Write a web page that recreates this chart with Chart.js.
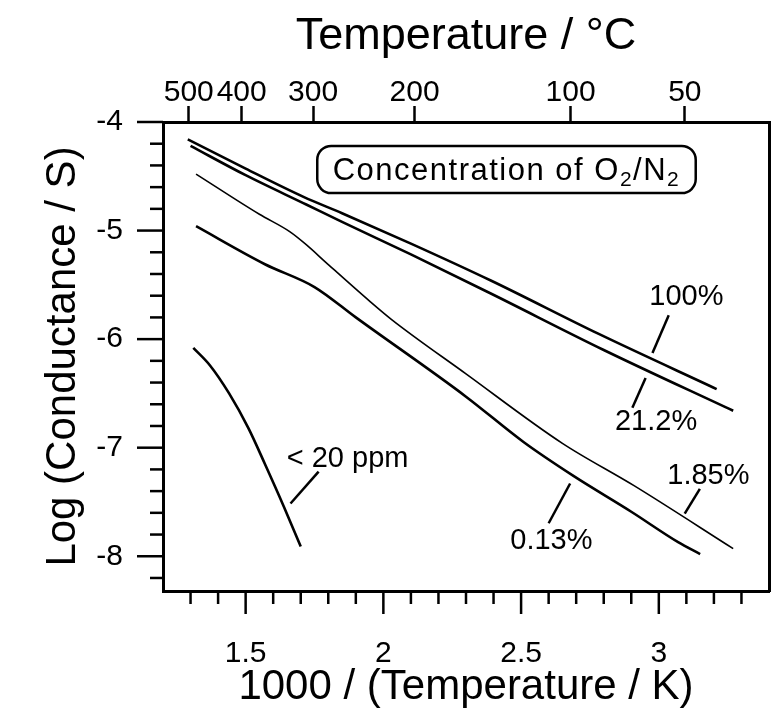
<!DOCTYPE html>
<html>
<head>
<meta charset="utf-8">
<script src="https://cdn.jsdelivr.net/npm/chart.js@4.4.1/dist/chart.umd.min.js"></script>
<style>
  html, body { margin: 0; padding: 0; background: #fff; }
  #wrap { width: 777px; height: 716px; }
</style>
</head>
<body>
<div id="wrap"><canvas id="chart" width="777" height="716"></canvas></div>
<script>
// curves: x = 1000 / T(K), y = log conductance
const x100 = [1.29, 1.50, 1.71, 1.85, 2.10, 2.39, 2.78, 3.21];
const y100 = [-4.16, -4.43, -4.69, -4.84, -5.12, -5.46, -5.95, -6.46];

const x212 = [1.30, 1.50, 1.72, 1.85, 2.10, 2.39, 2.80, 3.27];
const y212 = [-4.22, -4.49, -4.76, -4.92, -5.22, -5.58, -6.10, -6.66];

const x185 = [1.32, 1.55, 1.66, 1.72, 1.79, 1.95, 2.03, 2.30, 2.65, 2.91, 3.27];
const y185 = [-4.48, -4.85, -5.01, -5.13, -5.29, -5.65, -5.82, -6.32, -6.96, -7.35, -7.93];

const x013 = [1.32, 1.57, 1.75, 1.90, 2.30, 2.51, 2.69, 2.90, 3.07, 3.15];
const y013 = [-4.96, -5.31, -5.52, -5.80, -6.53, -6.95, -7.26, -7.59, -7.87, -7.98];

const x20ppm = [1.31, 1.37, 1.44, 1.51, 1.57, 1.64, 1.70];
const y20ppm = [-6.08, -6.24, -6.50, -6.82, -7.15, -7.55, -7.91];

// top axis tick labels (degrees C)
const tempTicks = [500, 400, 300, 200, 100, 50];

// curve labels and their leader lines, in data units
const labelTexts = ['100%', '21.2%', '1.85%', '0.13%', '< 20 ppm'];
const labelX = [3.10, 2.99, 3.18, 2.61, 1.87];
const labelY = [-5.61, -6.76, -7.26, -7.86, -7.10];
const leadX1 = [3.036, 2.952, 3.149, 2.678, 1.765];
const leadY1 = [-5.78, -6.357, -7.38, -7.33, -7.22];
const leadX2 = [2.977, 2.904, 3.094, 2.600, 1.663];
const leadY2 = [-6.127, -6.632, -7.608, -7.696, -7.514];

// legend box corners
const boxX = [1.76, 3.134];
const boxY = [-4.22, -4.655];

const xMin = 1.2, xMax = 3.4, yMin = -8.32, yMax = -4;

const family = "'Liberation Sans', Arial, Helvetica, sans-serif";

const xTickValues = [];
for (let i = 13; i <= 33; i++) xTickValues.push(i / 10);
const yTickValues = [];
for (let i = -41; i <= -20; i++) yTickValues.push(i / 5);

function isMajor(v, step) {
    return Math.abs(v / step - Math.round(v / step)) < 1e-6;
}

function toPoints(xs, ys) {
    return xs.map((x, i) => ({x: x, y: ys[i]}));
}

function curve(label, xs, ys, width) {
    return {
        label: label,
        data: toPoints(xs, ys),
        borderColor: '#000',
        borderWidth: width,
        pointRadius: 0,
        cubicInterpolationMode: 'monotone',
        fill: false,
    };
}

// outward tick marks, long on labelled values, short on the rest
const tickPlugin = {
    id: 'axisTicks',
    afterDraw(chart) {
        const ctx = chart.ctx;
        const area = chart.chartArea;
        const x = chart.scales.x;
        const y = chart.scales.y;
        ctx.save();
        ctx.strokeStyle = '#000';
        ctx.lineWidth = 2.5;
        x.ticks.forEach(t => {
            const px = x.getPixelForValue(t.value);
            const len = isMajor(t.value, 0.5) ? 23 : 13;
            ctx.beginPath();
            ctx.moveTo(px, area.bottom);
            ctx.lineTo(px, area.bottom + len);
            ctx.stroke();
        });
        y.ticks.forEach(t => {
            const py = y.getPixelForValue(t.value);
            const len = isMajor(t.value, 1) ? 26 : 13;
            ctx.beginPath();
            ctx.moveTo(area.left, py);
            ctx.lineTo(area.left - len, py);
            ctx.stroke();
        });
        ctx.restore();
    }
};

// draws the curve labels, leader lines and the boxed legend text
const labelPlugin = {
    id: 'curveLabels',
    afterDatasetsDraw(chart) {
        const ctx = chart.ctx;
        const x = chart.scales.x;
        const y = chart.scales.y;
        ctx.save();
        ctx.strokeStyle = '#000';
        ctx.fillStyle = '#000';
        ctx.lineWidth = 2.5;
        labelTexts.forEach((t, i) => {
            ctx.beginPath();
            ctx.moveTo(x.getPixelForValue(leadX1[i]), y.getPixelForValue(leadY1[i]));
            ctx.lineTo(x.getPixelForValue(leadX2[i]), y.getPixelForValue(leadY2[i]));
            ctx.stroke();
            ctx.font = '29px ' + family;
            ctx.textAlign = 'center';
            ctx.textBaseline = 'middle';
            ctx.fillText(t, x.getPixelForValue(labelX[i]), y.getPixelForValue(labelY[i]));
        });

        const bx1 = x.getPixelForValue(boxX[0]);
        const bx2 = x.getPixelForValue(boxX[1]);
        const by1 = y.getPixelForValue(boxY[0]);
        const by2 = y.getPixelForValue(boxY[1]);
        ctx.beginPath();
        ctx.roundRect(bx1, by1, bx2 - bx1, by2 - by1, 14);
        ctx.stroke();

        // "Concentration of O2/N2" with subscripts
        const parts = [['Concentration of O', false], ['2', true], ['/N', false], ['2', true]];
        const mainFont = '31px ' + family;
        const subFont = '21px ' + family;
        ctx.letterSpacing = '1.5px';
        ctx.textAlign = 'left';
        ctx.textBaseline = 'alphabetic';
        let total = 0;
        parts.forEach(p => {
            ctx.font = p[1] ? subFont : mainFont;
            total += ctx.measureText(p[0]).width;
        });
        let tx = (bx1 + bx2) / 2 - total / 2;
        const base = (by1 + by2) / 2 + 11;
        parts.forEach(p => {
            ctx.font = p[1] ? subFont : mainFont;
            ctx.fillText(p[0], tx, p[1] ? base + 6 : base);
            tx += ctx.measureText(p[0]).width;
        });
        ctx.restore();
    }
};

const border = {color: '#000', width: 3};

new Chart(document.getElementById('chart'), {
    type: 'line',
    data: {
        datasets: [
            curve('100%', x100, y100, 2.6),
            curve('21.2%', x212, y212, 2.6),
            curve('1.85%', x185, y185, 1.6),
            curve('0.13%', x013, y013, 2.6),
            curve('< 20 ppm', x20ppm, y20ppm, 2.6),
        ]
    },
    options: {
        responsive: false,
        animation: false,
        layout: {padding: {left: 0, right: 8, top: 0, bottom: 0}},
        plugins: {
            legend: {display: false},
            tooltip: {enabled: false},
        },
        scales: {
            x: {
                type: 'linear',
                position: 'bottom',
                min: xMin,
                max: xMax,
                afterBuildTicks: s => { s.ticks = xTickValues.map(v => ({value: v})); },
                ticks: {
                    autoSkip: false,
                    maxRotation: 0,
                    minRotation: 0,
                    padding: 22,
                    color: '#000',
                    font: {family: family, size: 30},
                    callback: v => isMajor(v, 0.5) ? String(v) : '',
                },
                // tick marks come from tickPlugin; the grid only reserves their room
                grid: {drawOnChartArea: false, tickLength: 23, tickColor: 'rgba(0,0,0,0)'},
                border: border,
                title: {
                    display: true,
                    text: '1000 / (Temperature / K)',
                    color: '#000',
                    font: {family: family, size: 42},
                    padding: {top: 0, bottom: 3},
                },
                afterFit: s => { s.height = 125; },
            },
            x2: {
                type: 'linear',
                position: 'top',
                min: xMin,
                max: xMax,
                afterBuildTicks: s => { s.ticks = tempTicks.map(t => ({value: 1000 / (t + 273.15)})); },
                ticks: {
                    autoSkip: false,
                    maxRotation: 0,
                    minRotation: 0,
                    padding: -5,
                    color: '#000',
                    font: {family: family, size: 30},
                    callback: (v, i) => String(tempTicks[i]),
                },
                grid: {
                    drawOnChartArea: false,
                    tickLength: 16,
                    tickWidth: 2.5,
                    tickColor: '#000',
                },
                border: border,
                title: {
                    display: true,
                    text: 'Temperature / °C',
                    color: '#000',
                    font: {family: family, size: 45},
                    padding: {top: 10, bottom: 0},
                },
                afterFit: s => { s.height = 122; },
            },
            y: {
                type: 'linear',
                position: 'left',
                min: yMin,
                max: yMax,
                afterBuildTicks: s => { s.ticks = yTickValues.map(v => ({value: v})); },
                ticks: {
                    autoSkip: false,
                    padding: 14,
                    color: '#000',
                    font: {family: family, size: 30},
                    callback: v => isMajor(v, 1) ? String(Math.round(v)) : '',
                },
                grid: {drawOnChartArea: false, tickLength: 26, tickColor: 'rgba(0,0,0,0)'},
                border: border,
                title: {
                    display: true,
                    text: 'Log (Conductance / S)',
                    color: '#000',
                    font: {family: family, size: 42},
                    padding: {top: 38, bottom: 0},
                },
                afterFit: s => { s.width = 163; },
            },
            y2: {
                type: 'linear',
                position: 'right',
                min: yMin,
                max: yMax,
                ticks: {display: false},
                grid: {drawOnChartArea: false, drawTicks: false},
                border: border,
                afterFit: s => { s.width = 0; },
            },
        },
    },
    plugins: [labelPlugin, tickPlugin],
});
</script>
</body>
</html>
